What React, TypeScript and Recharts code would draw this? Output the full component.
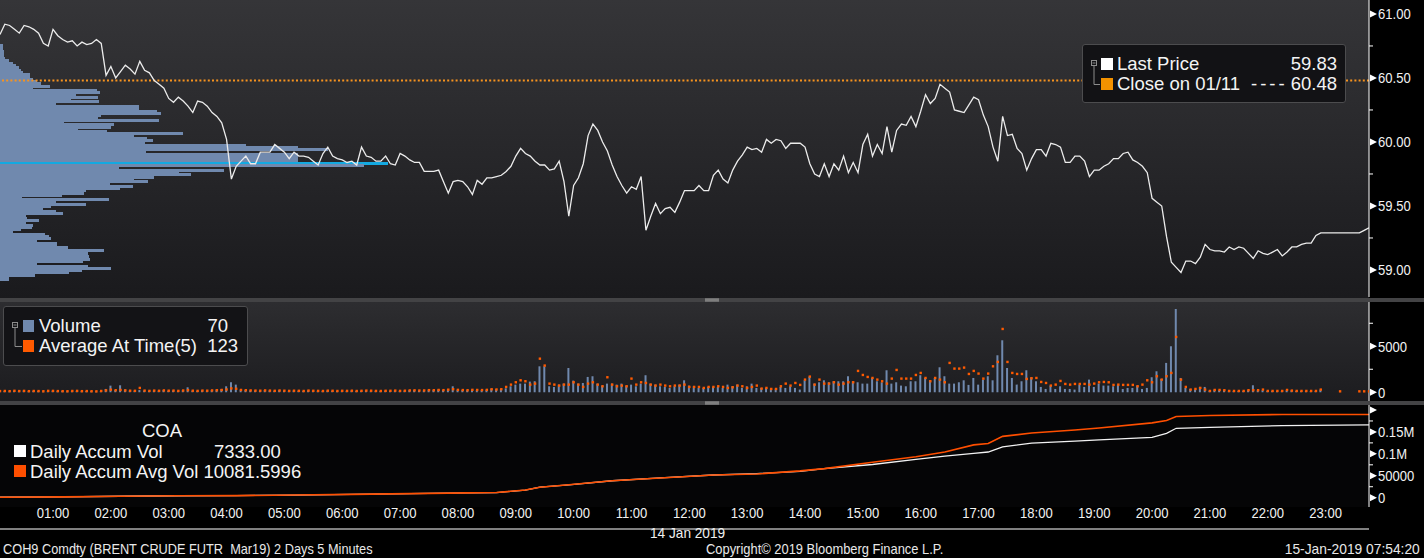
import React from "react";
import { Bar, BarChart, ComposedChart, Line, ReferenceLine, XAxis, YAxis } from "recharts";

// canvas layout (Bloomberg GP-style, 3 stacked panels + right axis)
const W = 1424;
const H = 558;
const PLOT_W = 1369;
const AXIS_W = W - PLOT_W;

const SANS = "'Liberation Sans', Arial, sans-serif";
// the terminal font is narrower than Liberation Sans; squeeze it horizontally
const AXIS_SQUEEZE = 0.87;

const BLUE = "#7089ae";
const CYAN = "#14a9e1";
const CLOSE_ORANGE = "#f7931e";
const AVG_ORANGE = "#ff5a00";

// 5-minute bars, minutes since 00:00 on 14 Jan
const FIRST_T = 5;
const STEP = 5;
const X_DOMAIN: [number, number] = [5, 1425];

const HOUR_LABELS = [
  "01:00", "02:00", "03:00", "04:00", "05:00", "06:00", "07:00", "08:00", "09:00", "10:00", "11:00", "12:00",
  "13:00", "14:00", "15:00", "16:00", "17:00", "18:00", "19:00", "20:00", "21:00", "22:00", "23:00",
];

const PRICE = [
  60.84,
  60.92, 60.91, 60.88, 60.85, 60.91, 60.9, 60.88, 60.85, 60.77, 60.75,
  60.88, 60.83, 60.8, 60.78, 60.79, 60.75, 60.78, 60.76, 60.77, 60.8,
  60.77, 60.52, 60.59, 60.5, 60.55, 60.6, 60.57, 60.53, 60.63, 60.56,
  60.54, 60.48, 60.45, 60.42, 60.34, 60.31, 60.35, 60.32, 60.28, 60.23,
  60.32, 60.31, 60.28, 60.23, 60.2, 60.15, 60.02, 59.71, 59.81, 59.85,
  59.89, 59.83, 59.83, 59.92, 59.92, 59.92, 59.98, 59.95, 59.92, 59.87,
  59.92, 59.89, 59.89, 59.88, 59.85, 59.82, 59.91, 59.96, 59.89, 59.87,
  59.86, 59.84, 59.85, 59.82, 59.96, 59.89, 59.88, 59.85, 59.85, 59.89,
  59.83, 59.82, 59.91, 59.89, 59.86, 59.84, 59.84, 59.77, 59.77, 59.77,
  59.78, 59.69, 59.6, 59.69, 59.7, 59.69, 59.65, 59.59, 59.7, 59.67,
  59.72, 59.72, 59.73, 59.74, 59.77, 59.81, 59.89, 59.95, 59.91, 59.89,
  59.85, 59.82, 59.82, 59.78, 59.79, 59.85, 59.69, 59.42, 59.66, 59.72,
  59.83, 60.05, 60.14, 60.09, 60.0, 59.93, 59.82, 59.73, 59.66, 59.6,
  59.65, 59.63, 59.73, 59.31, 59.42, 59.52, 59.44, 59.48, 59.49, 59.45,
  59.53, 59.62, 59.62, 59.62, 59.66, 59.62, 59.62, 59.74, 59.78, 59.71,
  59.68, 59.78, 59.85, 59.9, 59.96, 59.94, 59.95, 59.92, 60.02, 59.99,
  60.02, 60.01, 59.95, 59.99, 59.99, 59.99, 59.96, 59.83, 59.75, 59.73,
  59.83, 59.73, 59.83, 59.78, 59.89, 59.76, 59.84, 59.76, 59.98, 60.06,
  59.89, 59.98, 59.91, 60.12, 59.92, 60.09, 60.14, 60.13, 60.2, 60.12,
  60.24, 60.37, 60.3, 60.34, 60.45, 60.42, 60.39, 60.25, 60.24, 60.23,
  60.29, 60.35, 60.33, 60.21, 60.12, 59.96, 59.85, 60.2, 60.05, 60.06,
  59.95, 59.91, 59.78, 59.87, 59.94, 59.94, 59.89, 59.99, 59.98, 59.96,
  59.84, 59.84, 59.89, 59.89, 59.85, 59.73, 59.78, 59.78, 59.81, 59.83,
  59.87, 59.87, 59.91, 59.92, 59.86, 59.84, 59.81, 59.76, 59.56, 59.53,
  59.5, 59.26, 59.06, 59.02, 58.98, 59.07, 59.07, 59.05, 59.1, 59.2,
  59.16, 59.15, 59.15, 59.14, 59.18, 59.16, 59.18, 59.17, 59.13, 59.09,
  59.15, 59.13, 59.12, 59.14, 59.16, 59.11, 59.14, 59.18, 59.18, 59.2,
  59.21, 59.21, 59.27, 59.29, 59.29, 59.29, 59.29, 59.29, 59.29, 59.29,
  59.29, 59.29, 59.31, 59.33,
];

const VOLUME: (number | null)[] = [
  150,
  120, 90, 180, 150, 200, 110, 160, 130, 90, 140,
  170, 120, 150, 100, 130, 160, 110, 140, 120, 90,
  150, 360, 720, 250, 760, 300, 200, 180, 240, 190,
  160, 210, 180, 250, 170, 200, 150, 230, 540, 180,
  160, 220, 190, 250, 300, 350, 650, 1090, 830, 300,
  260, 220, 200, 180, 250, 200, 170, 230, 190, 160,
  200, 170, 150, 210, 180, 160, 140, 190, 170, 150,
  180, 160, 200, 150, 170, 220, 190, 160, 150, 180,
  170, 210, 160, 190, 230, 250, 200, 220, 280, 260,
  300, 250, 330, 650, 280, 240, 220, 300, 270, 250,
  290, 400, 330, 360, 430, 650, 830, 940, 940, 1160,
  1200, 2820, 2820, 650, 580, 830, 940, 2640, 1270, 940,
  1010, 1665, 1740, 940, 725, 940, 940, 830, 940, 725,
  830, 650, 940, 1850, 940, 830, 650, 580, 470, 650,
  830, 1300, 725, 650, 470, 470, 580, 580, 580, 470,
  830, 650, 830, 470, 650, 940, 470, 470, 470, 400,
  400, 580, 470, 650, 470, 290, 1300, 1700, 940, 1085,
  1300, 1085, 1195, 1195, 1195, 1740, 1195, 1085, 940, 940,
  1555, 1195, 1085, 2390, 940, 1085, 725, 650, 1195, 1195,
  1850, 1555, 1300, 1555, 2715, 1740, 940, 940, 1085, 1300,
  800, 1555, 830, 1375, 1740, 1300, 4020, 5650, 2640, 1555,
  830, 1195, 2390, 1630, 1195, 580, 360, 725, 360, 650,
  360, 360, 290, 830, 580, 1375, 580, 940, 725, 725,
  650, 830, 360, 470, 470, 725, 360, 470, 1630, 2280,
  1450, 3190, 5000, 9050, 1555, 470, 360, 290, 580, 580,
  180, 290, 220, 220, 180, 145, 145, 145, 220, 760,
  220, 220, 145, 145, 145, 145, 220, 220, 145, 145,
  145, 145, 145, 290, null, null, null, null, null, null,
  null, null, null, null,
];

const AVG_AT_TIME: (number | null)[] = [
  130,
  140, 120, 160, 130, 150, 120, 140, 130, 110, 150,
  150, 130, 120, 110, 140, 150, 120, 130, 110, 100,
  140, 200, 280, 220, 250, 200, 170, 160, 470, 180,
  150, 180, 160, 200, 170, 180, 150, 190, 230, 170,
  150, 180, 170, 200, 220, 250, 300, 420, 380, 250,
  220, 200, 180, 170, 200, 180, 160, 190, 170, 150,
  170, 160, 140, 180, 160, 150, 140, 170, 160, 140,
  160, 150, 170, 140, 160, 180, 170, 150, 140, 160,
  160, 180, 150, 170, 200, 210, 190, 200, 230, 220,
  250, 230, 280, 330, 260, 240, 220, 260, 250, 240,
  260, 320, 300, 330, 580, 830, 1085, 1300, 1195, 830,
  940, 3650, 2900, 940, 830, 725, 830, 830, 1085, 830,
  580, 940, 1085, 830, 650, 1630, 830, 650, 725, 650,
  1485, 830, 1085, 1010, 830, 725, 830, 725, 650, 725,
  725, 830, 580, 580, 580, 470, 580, 580, 650, 580,
  470, 545, 725, 650, 470, 580, 725, 400, 470, 360,
  360, 650, 940, 725, 1010, 800, 1375, 1700, 830, 1375,
  940, 940, 1085, 830, 940, 1085, 1085, 2320, 1880, 1665,
  1555, 1375, 1195, 940, 1485, 2425, 1485, 1485, 1485, 1880,
  2100, 1555, 1195, 1555, 1375, 1085, 3190, 2570, 2570, 2680,
  1990, 2320, 2030, 1485, 2030, 2820, 3295, 6880, 3295, 2100,
  1990, 1990, 1450, 1520, 1555, 1120, 1010, 725, 830, 1230,
  905, 830, 905, 905, 905, 830, 940, 1085, 1120, 1085,
  800, 830, 800, 800, 800, 650, 830, 1300, 1085, 1740,
  1375, 1740, 2100, 6010, 1375, 580, 290, 360, 470, 290,
  145, 250, 250, 220, 145, 145, 145, 145, 220, 220,
  220, 290, 145, 145, 145, 145, 250, 180, 145, 145,
  145, 145, 145, 290, null, null, null, 100, null, null,
  null, 100, 100, 100,
];

// cumulative volume, sampled where the curves bend
const ACCUM_TIME = [
  5, 70, 130, 190, 250, 310, 370, 430, 490, 520, 550, 565, 595, 640, 690, 745, 790,
  835, 860, 910, 955, 985, 1015, 1030, 1045, 1075, 1120, 1145, 1200, 1215, 1225, 1260, 1335, 1425,
];
const DAILY_ACCUM_VOL = [
  1000, 2000, 3300, 4500, 4800, 6000, 7500, 9200, 11000, 11600, 17500, 24000, 29400, 38700, 45000, 51800, 54900,
  60200, 66400, 75700, 87300, 94900, 101200, 104200, 115800, 124300, 129000, 132000, 137500, 146800, 158300, 160600, 164400, 166000,
];
const DAILY_ACCUM_AVG = [
  1000, 2000, 3300, 4600, 4800, 6000, 7500, 9300, 11000, 11800, 17500, 24000, 29400, 38700, 45000, 51800, 54200,
  61100, 66400, 81000, 93500, 104200, 120400, 123600, 139800, 147500, 154400, 159000, 170600, 176000, 185200, 187500, 189800, 189800,
];

// volume-at-price profile, top (≈60.77) to bottom (≈58.91); POC row highlighted
const PROFILE_LOTS = [
  30, 30, 30, 40, 40, 40, 50, 90, 130, 160,
  190, 210, 230, 300, 300, 330, 370, 410, 500, 330,
  970, 1000, 760, 980, 710, 990, 560, 1390, 1390, 1570,
  1610, 1010, 980, 1590, 640, 1140, 1110, 780, 1070, 1830,
  1340, 1470, 1530, 1450, 2460, 2980, 3280, 1460, 2980, 2980,
  2980, 2980, 3880, 3640, 1190, 2240, 1790, 1910, 1540, 1340,
  1480, 1100, 1330, 1200, 860, 840, 620, 220, 1090, 560,
  860, 510, 430, 560, 630, 260, 270, 390, 260, 330,
  320, 210, 130, 450, 490, 510, 370, 570, 570, 680,
  1040, 880, 880, 890, 900, 830, 370, 880, 1110, 820,
  690, 350, 90, 90,
];
const POC_ROW = 52;

const PRICE_TICKS = [59, 59.25, 59.5, 59.75, 60, 60.25, 60.5, 60.75, 61];
const VOLUME_TICKS = [0, 2500, 5000, 7500];
const ACCUM_TICKS = [0, 25000, 50000, 75000, 100000, 125000, 150000, 175000, 200000];
const CLOSE_PRICE = 60.48;

const priceRows = PRICE.map((p, k) => ({ t: FIRST_T + STEP * k, price: p }));
const volumeRows = VOLUME.map((v, k) => ({ t: FIRST_T + STEP * k, volume: v, avg: AVG_AT_TIME[k] }));
const accumVolRows = ACCUM_TIME.map((t, k) => ({ t, v: DAILY_ACCUM_VOL[k] }));
const accumAvgRows = ACCUM_TIME.map((t, k) => ({ t, v: DAILY_ACCUM_AVG[k] }));
const profileRows = PROFILE_LOTS.map((lots, k) => ({ level: k, lots }));
const LABEL_TICKS = HOUR_LABELS.map((_, h) => 60 * (h + 1));
const MARK_TICKS = [...LABEL_TICKS.map((t) => t - 30), 1410];

function SqText({ x, y, anchor = "start", children }: { x: number; y: number; anchor?: string; children: React.ReactNode }) {
  return (
    <text
      transform={`translate(${x},${y}) scale(${AXIS_SQUEEZE},1)`}
      textAnchor={anchor}
      dominantBaseline="central"
      fill="#f2f2f2"
      fontSize={15}
      fontFamily={SANS}
    >
      {children}
    </text>
  );
}

function makeAxisTick(isMajor: (v: number) => boolean, fmt: (v: number) => string) {
  return (props: any) => {
    const { x, y, payload } = props;
    const v = payload.value;
    if (!isMajor(v)) {
      return <line x1={x} x2={x + 4} y1={y} y2={y} stroke="#fff" strokeWidth={1} />;
    }
    return (
      <g>
        <polygon points={`${x + 1},${y - 3.5} ${x + 8},${y} ${x + 1},${y + 3.5}`} fill="#fff" />
        <SqText x={x + 9} y={y}>{fmt(v)}</SqText>
      </g>
    );
  };
}

const priceTick = makeAxisTick(
  (v) => Math.abs(v * 2 - Math.round(v * 2)) < 1e-6,
  (v) => v.toFixed(2),
);
const volumeTick = makeAxisTick((v) => v % 5000 === 0, (v) => String(v));
const accumTick = makeAxisTick(
  (v) => v % 50000 === 0,
  (v) => (v === 0 ? "0" : v === 50000 ? "50000" : v >= 200000 ? "" : `${v / 1e6}M`),
);

const HourTick = (props: any) => {
  const { x, y, payload } = props;
  return (
    <SqText x={x} y={y + 6} anchor="middle">
      {HOUR_LABELS[payload.value / 60 - 1]}
    </SqText>
  );
};

const AvgDot = (props: any) => {
  const { cx, cy, payload, index } = props;
  if (payload?.avg == null || cy == null || Number.isNaN(cy)) return <g key={`a${index}`} />;
  return <rect key={`a${index}`} x={cx - 1.2} y={cy - 1.2} width={2.4} height={2.4} fill={AVG_ORANGE} />;
};

// rows of the profile touch each other: fill the whole category band, pixel-snapped
const ProfileRow = (props: any) => {
  const { x, y, width, height, payload, background } = props;
  if (!width || width <= 0) return <g />;
  const top = background && Number.isFinite(background.y) ? background.y : y;
  const h = background && Number.isFinite(background.height) ? background.height : height;
  return (
    <rect
      x={x}
      y={top - 0.5}
      width={width}
      height={h + 1}
      fill={payload?.level === POC_ROW ? CYAN : BLUE}
      shapeRendering="crispEdges"
    />
  );
};

function Txt({
  x, cy, children, size = 18.5, right = false, color = "#f4f4f4", sx = 1, spacing = 0,
}: {
  x: number; cy: number; children: React.ReactNode; size?: number; right?: boolean; color?: string; sx?: number; spacing?: number;
}) {
  const lh = Math.round(size * 1.2);
  const pos: React.CSSProperties = right ? { right: W - x } : { left: x };
  return (
    <div
      style={{
        position: "absolute", top: cy - lh / 2, lineHeight: `${lh}px`, fontSize: size,
        fontFamily: SANS, color, whiteSpace: "nowrap", letterSpacing: spacing,
        transform: sx === 1 ? undefined : `scaleX(${sx})`,
        transformOrigin: right ? "right center" : "left center",
        ...pos,
      }}
    >
      {children}
    </div>
  );
}

function Swatch({ x, y, color, w = 12 }: { x: number; y: number; color: string; w?: number }) {
  return <div style={{ position: "absolute", left: x, top: y, width: w, height: 12, background: color }} />;
}

const abs = (left: number, top: number, extra: React.CSSProperties = {}): React.CSSProperties => ({
  position: "absolute", left, top, ...extra,
});

export default function App() {
  return (
    <div style={{ position: "absolute", left: 0, top: 0, width: W, height: H, background: "#000", overflow: "hidden" }}>
      {/* panel backgrounds */}
      <div style={abs(0, 0, { width: PLOT_W, height: 298, background: "linear-gradient(#353538, #1a1a1d)" })} />
      <div style={abs(0, 302, { width: PLOT_W, height: 99, background: "linear-gradient(#2d2d30, #1c1c1f)" })} />
      <div style={abs(0, 405, { width: PLOT_W, height: 102, background: "#050506" })} />

      {/* volume at price profile */}
      <div style={abs(0, 44)}>
        <BarChart
          width={PLOT_W}
          height={237}
          data={profileRows}
          layout="vertical"
          barCategoryGap={0}
          barGap={0}
          margin={{ top: 0, right: 0, bottom: 0, left: 0 }}
        >
          <XAxis type="number" domain={[0, PLOT_W * 10]} hide allowDataOverflow />
          <YAxis type="category" dataKey="level" hide />
          <Bar dataKey="lots" shape={ProfileRow} isAnimationActive={false} />
        </BarChart>
      </div>

      {/* price panel */}
      <div style={abs(0, 0)}>
        <ComposedChart width={W} height={298} data={priceRows} margin={{ top: 0, right: 0, bottom: 1, left: 0 }}>
          <XAxis type="number" dataKey="t" domain={X_DOMAIN} hide allowDataOverflow />
          <YAxis
            orientation="right"
            width={AXIS_W}
            domain={[58.789, 61.109]}
            allowDataOverflow
            ticks={PRICE_TICKS}
            interval={0}
            tick={priceTick}
            tickLine={false}
            tickSize={0}
            tickMargin={0}
            axisLine={{ stroke: "#fff" }}
          />
          <ReferenceLine y={CLOSE_PRICE} stroke={CLOSE_ORANGE} strokeWidth={2} strokeDasharray="2 2.2" />
          <Line
            type="linear"
            dataKey="price"
            stroke="#ececec"
            strokeWidth={1.3}
            dot={false}
            activeDot={false}
            isAnimationActive={false}
          />
        </ComposedChart>
      </div>

      {/* volume panel */}
      <div style={abs(0, 302)}>
        <ComposedChart width={W} height={99} data={volumeRows} margin={{ top: 0, right: 0, bottom: 0, left: 0 }}>
          <XAxis type="number" dataKey="t" domain={X_DOMAIN} hide allowDataOverflow />
          <YAxis
            orientation="right"
            width={AXIS_W}
            domain={[-950, 9810]}
            allowDataOverflow
            ticks={VOLUME_TICKS}
            interval={0}
            tick={volumeTick}
            tickLine={false}
            tickSize={0}
            tickMargin={0}
            axisLine={{ stroke: "#fff" }}
          />
          <Bar dataKey="volume" fill={BLUE} barSize={2} isAnimationActive={false} />
          <Line
            dataKey="avg"
            stroke="none"
            strokeWidth={0}
            dot={AvgDot}
            activeDot={false}
            connectNulls={false}
            isAnimationActive={false}
          />
        </ComposedChart>
      </div>

      {/* daily accumulated volume panel + time axis */}
      <div style={abs(0, 405)}>
        <ComposedChart width={W} height={128} margin={{ top: 0, right: 0, bottom: 0, left: 0 }}>
          <XAxis
            xAxisId="marks"
            type="number"
            dataKey="t"
            domain={X_DOMAIN}
            allowDataOverflow
            ticks={MARK_TICKS}
            interval={0}
            tick={false}
            tickSize={4}
            tickLine={{ stroke: "#fff" }}
            axisLine={{ stroke: "#fff" }}
            height={4}
          />
          <XAxis
            xAxisId="labels"
            type="number"
            dataKey="t"
            domain={X_DOMAIN}
            allowDataOverflow
            ticks={LABEL_TICKS}
            interval={0}
            tick={HourTick}
            tickLine={false}
            axisLine={false}
            tickSize={0}
            tickMargin={0}
            height={22}
          />
          <YAxis
            orientation="right"
            width={AXIS_W}
            domain={[-21200, 211400]}
            allowDataOverflow
            ticks={ACCUM_TICKS}
            interval={0}
            tick={accumTick}
            tickLine={false}
            tickSize={0}
            tickMargin={0}
            axisLine={{ stroke: "#fff" }}
          />
          <Line
            xAxisId="marks"
            data={accumVolRows}
            dataKey="v"
            type="linear"
            stroke="#f2f2f2"
            strokeWidth={1.3}
            dot={false}
            activeDot={false}
            isAnimationActive={false}
          />
          <Line
            xAxisId="labels"
            data={accumAvgRows}
            dataKey="v"
            type="linear"
            stroke="#ff4f00"
            strokeWidth={1.6}
            dot={false}
            activeDot={false}
            isAnimationActive={false}
          />
        </ComposedChart>
      </div>

      {/* panel separators with drag handles */}
      <div style={abs(0, 298, { width: W, height: 4, background: "#434345" })} />
      <div style={abs(0, 401, { width: W, height: 4, background: "#434345" })} />
      <svg width={W} height={H} style={abs(0, 0, { pointerEvents: "none" })}>
        {[298, 401].map((y) => (
          <g key={y}>
            <rect x={705} y={y + 0.5} width={14} height={3} fill="#9a9a9a" />
            <line x1={705} x2={719} y1={y + 2} y2={y + 2} stroke="#555" strokeWidth={0.8} />
          </g>
        ))}
      </svg>

      {/* price legend */}
      <div
        style={abs(1082, 44, {
          width: 262, height: 57, background: "#121215", border: "1px solid #4c4c4e", borderRadius: 3,
        })}
      />
      {/* volume legend */}
      <div
        style={abs(3, 306, {
          width: 243, height: 58, background: "#131316", border: "1px solid #4c4c4e", borderRadius: 3,
        })}
      />
      <svg width={W} height={H} style={abs(0, 0, { pointerEvents: "none" })}>
        <rect x={1091.5} y={60.5} width={5} height={5} fill="none" stroke="#8c8c8c" />
        <line x1={1092.5} x2={1095.5} y1={63} y2={63} stroke="#8c8c8c" />
        <polyline points="1094,66 1094,84.5 1100,84.5" fill="none" stroke="#8c8c8c" />
        <rect x={12.5} y={322.5} width={5} height={5} fill="none" stroke="#8c8c8c" />
        <line x1={13.5} x2={16.5} y1={325} y2={325} stroke="#8c8c8c" />
        <polyline points="15,328 15,346.5 22,346.5" fill="none" stroke="#8c8c8c" />
      </svg>

      <Swatch x={1101} y={58} color="#ffffff" />
      <Txt x={1117} cy={64}>Last Price</Txt>
      <Txt x={1337} cy={64} right>59.83</Txt>
      <Swatch x={1101} y={78} color="#f39200" />
      <Txt x={1117} cy={84}>Close on 01/11</Txt>
      <Txt x={1251} cy={84} spacing={3}>----</Txt>
      <Txt x={1337} cy={84} right>60.48</Txt>

      <Swatch x={23} y={320} w={11} color={BLUE} />
      <Txt x={39} cy={326}>Volume</Txt>
      <Txt x={228} cy={326} right>70</Txt>
      <Swatch x={23} y={340} w={11} color={AVG_ORANGE} />
      <Txt x={39} cy={346}>Average At Time(5)</Txt>
      <Txt x={238} cy={346} right>123</Txt>

      {/* accumulated volume legend */}
      <Txt x={142} cy={431}>COA</Txt>
      <Swatch x={14} y={445} color="#ffffff" />
      <Txt x={30} cy={451.5}>Daily Accum Vol</Txt>
      <Txt x={214} cy={451.5}>7333.00</Txt>
      <Swatch x={14} y={465} color="#ff4f00" />
      <Txt x={30} cy={471.5}>Daily Accum Avg Vol 10081.5996</Txt>

      {/* date + footer */}
      <Txt x={650} cy={532.5} size={15} sx={0.91} color="#f0f0f0">14 Jan 2019</Txt>
      <Txt x={3} cy={549} size={15} sx={0.85} color="#e8e8e8">COH9 Comdty (BRENT CRUDE FUTR&nbsp; Mar19) 2 Days 5 Minutes</Txt>
      <Txt x={706} cy={549} size={15} sx={0.86} color="#e8e8e8">Copyright© 2019 Bloomberg Finance L.P.</Txt>
      <Txt x={1420} cy={549} size={15} sx={0.92} color="#e8e8e8" right>15-Jan-2019 07:54:20</Txt>
    </div>
  );
}
